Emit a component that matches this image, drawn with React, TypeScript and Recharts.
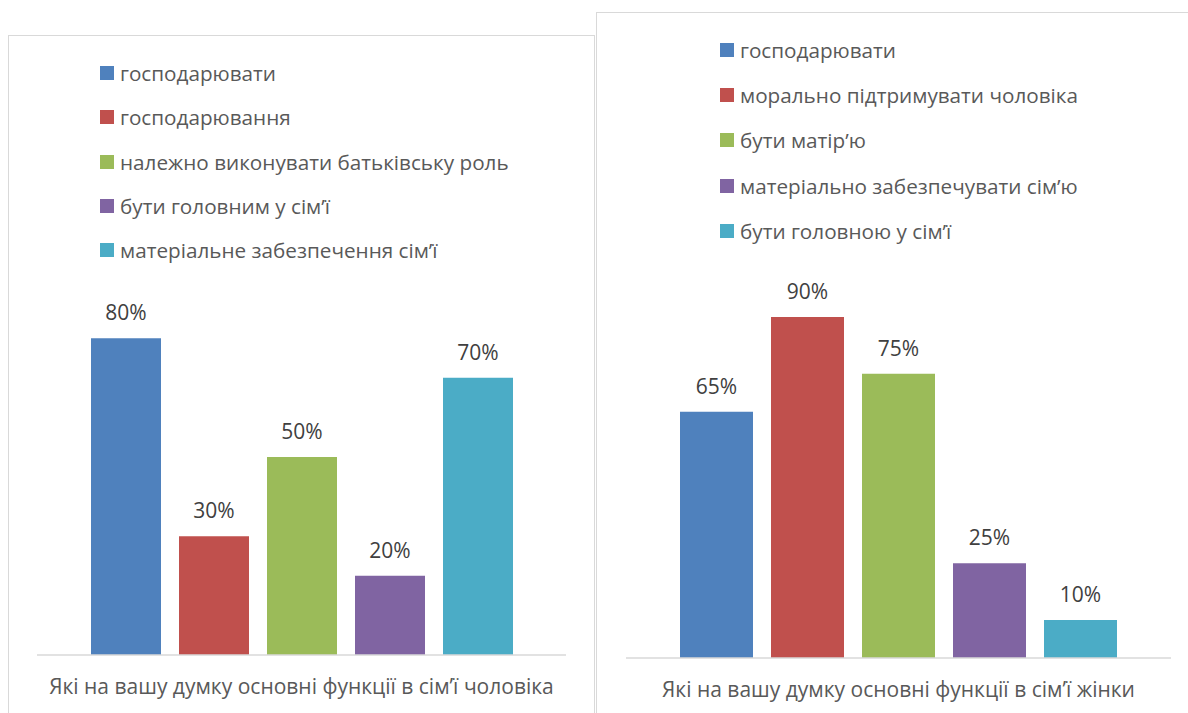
import React from "react";
import { BarChart, Bar, XAxis, YAxis, LabelList } from "recharts";

const colors = ["#4F81BD", "#C0504D", "#9BBB59", "#8064A2", "#4BACC6"];

const maleCategory = "Які на вашу думку основні функції в сім’ї чоловіка";
const maleSeries = [
  "господарювати",
  "господарювання",
  "належно виконувати батьківську роль",
  "бути головним у сім’ї",
  "матеріальне забезпечення сім’ї",
];
const maleValues = [80, 30, 50, 20, 70];

const femaleCategory = "Які на вашу думку основні функції в сім’ї жінки";
const femaleSeries = [
  "господарювати",
  "морально підтримувати чоловіка",
  "бути матір’ю",
  "матеріально забезпечувати сім’ю",
  "бути головною у сім’ї",
];
const femaleValues = [65, 90, 75, 25, 10];

const font = "'Open Sans', sans-serif";

function buildRow(category: string, values: number[]) {
  const row: any = { name: category };
  values.forEach((v, i) => {
    row["s" + i] = v;
  });
  return [row];
}

function LegendBlock({ items, left, top, step }: any) {
  return (
    <div style={{ position: "absolute", left, top }}>
      {items.map((name: string, i: number) => (
        <div
          key={name}
          style={{
            position: "absolute",
            top: i * step,
            left: 0,
            display: "flex",
            alignItems: "center",
            whiteSpace: "nowrap",
            height: 24,
          }}
        >
          <span style={{ width: 14, height: 14, background: colors[i], display: "inline-block", marginRight: 6 }} />
          <span style={{ fontFamily: font, fontSize: 20.7, color: "#595959" }}>{name}</span>
        </div>
      ))}
    </div>
  );
}

function Panel({ category, series, values, width, height, margin, barSize }: any) {
  const data = buildRow(category, values);
  return (
    <BarChart width={width} height={height} data={data} margin={margin} barGap={18}>
      <XAxis
        dataKey="name"
        axisLine={{ stroke: "#D9D9D9", strokeWidth: 1.5 }}
        tickLine={false}
        tickMargin={18}
        height={50}
        tick={{ fill: "#595959", fontSize: 21, fontFamily: font }}
      />
      <YAxis hide domain={[0, 100]} />
      {series.map((name: string, i: number) => (
        <Bar key={name} dataKey={"s" + i} name={name} fill={colors[i]} barSize={barSize} isAnimationActive={false}>
          <LabelList
            dataKey={"s" + i}
            position="top"
            offset={18}
            formatter={(v: any) => `${v}%`}
            style={{ fill: "#404040", fontSize: 21, fontFamily: font }}
          />
        </Bar>
      ))}
    </BarChart>
  );
}

export default function App() {
  return (
    <div
      style={{
        position: "absolute",
        left: 0,
        top: 0,
        width: 1188,
        height: 713,
        overflow: "hidden",
        background: "#fff",
      }}
    >
      <div
        style={{
          position: "absolute",
          left: 8,
          top: 35,
          width: 585,
          height: 700,
          border: "1px solid #D9D9D9",
        }}
      >
        <div style={{ position: "absolute", left: 0, top: 0 }}>
          <Panel
            category={maleCategory}
            series={maleSeries}
            values={maleValues}
            width={585}
            height={677}
            margin={{ top: 223, right: 28, left: 28, bottom: 8 }}
            barSize={70}
          />
        </div>
      </div>
      <LegendBlock items={maleSeries} left={100} top={61} step={44.3} />

      <div
        style={{
          position: "absolute",
          left: 596,
          top: 12,
          width: 600,
          height: 720,
          border: "1px solid #D9D9D9",
        }}
      >
        <div style={{ position: "absolute", left: 0, top: 0 }}>
          <Panel
            category={femaleCategory}
            series={femaleSeries}
            values={femaleValues}
            width={591}
            height={700}
            margin={{ top: 266, right: 17, left: 29, bottom: 5 }}
            barSize={73}
          />
        </div>
      </div>
      <LegendBlock items={femaleSeries} left={720} top={38} step={45.2} />
    </div>
  );
}
